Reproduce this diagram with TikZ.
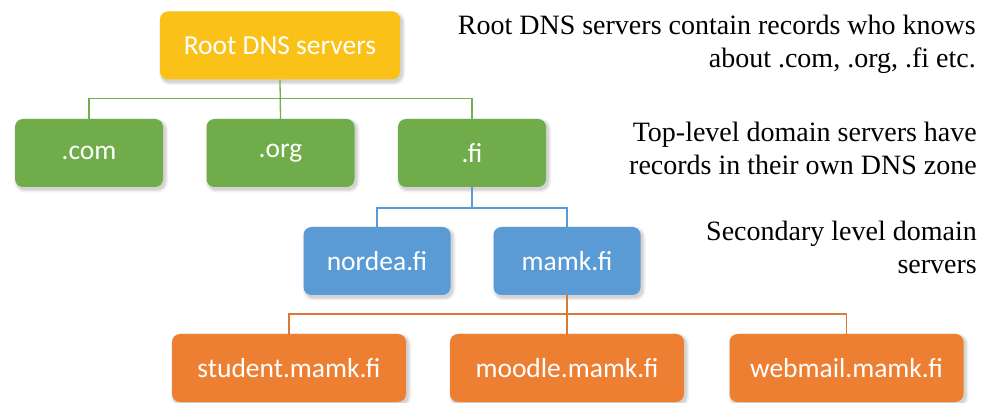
\documentclass[tikz,border=0pt]{standalone}
\usepackage{fontspec}
\newfontfamily\notefont{Liberation Serif}
\newfontfamily\boxfont{Carlito}

\definecolor{rootFill}{HTML}{FAC118}
\definecolor{tldFill}{HTML}{70AD4A}
\definecolor{tldLine}{HTML}{74AE4E}
\definecolor{sldFill}{HTML}{5A9BD6}
\definecolor{sldLine}{HTML}{5B9BD5}
\definecolor{hostFill}{HTML}{ED7F33}
\definecolor{hostLine}{HTML}{DD7A36}

\tikzset{
  % soft drop shadow built from opaque grey layers
  softshadow/.style={
    preaction={draw=black!5, line width=6pt, fill=black!5,
      transform canvas={xshift=2pt, yshift=-2.5pt}},
    preaction={draw=black!10, line width=3.5pt, fill=black!10,
      transform canvas={xshift=2pt, yshift=-2.5pt}},
    preaction={draw=black!17, line width=1.2pt, fill=black!17,
      transform canvas={xshift=2pt, yshift=-2.5pt}}},
  srvbox/.style={rectangle, rounded corners=8pt, inner sep=0pt,
    minimum height=68pt, text=white, softshadow,
    font=\boxfont\fontsize{27.5}{30}\selectfont},
  rootbox/.style={srvbox, fill=rootFill, minimum width=240pt},
  tldbox/.style={srvbox, fill=tldFill, minimum width=148pt},
  sldbox/.style={srvbox, fill=sldFill, minimum width=147pt},
  hostbox/.style={srvbox, fill=hostFill, minimum width=234pt},
  link/.style={line width=1.3pt},
  % one line of a side note, placed by its baseline's right end
  noteline/.style={anchor=base east, inner sep=0pt}
}

\begin{document}
\begin{tikzpicture}[x=1pt, y=-1pt]
  \useasboundingbox (0,0) rectangle (983,403);

  % explanatory notes
  \node[noteline, font=\notefont\fontsize{28}{33}\selectfont] (noteroota) at (976,35) {Root DNS servers contain records who knows};
  \node[noteline, font=\notefont\fontsize{28}{33}\selectfont] (noterootb) at (976,68) {about .com, .org, .fi etc.};
  \node[noteline, font=\notefont\fontsize{28}{33}\selectfont] (notetlda) at (977,142) {Top-level domain servers have};
  \node[noteline, font=\notefont\fontsize{28}{33}\selectfont] (notetldb) at (977,175) {records in their own DNS zone};
  \node[noteline, font=\notefont\fontsize{28}{33}\selectfont] (noteslda) at (977,241) {Secondary level domain};
  \node[noteline, font=\notefont\fontsize{28}{33}\selectfont] (notesldb) at (977,274) {servers};

  % root level
  \node[rootbox] (root) at (280,45.5) {Root DNS servers};

  % top-level domains
  \node[tldbox] (com) at (89,153) {.com};
  \node[tldbox] (org) at (280.5,153) {.org};
  \node[tldbox] (fi)  at (472,153) {.fi};

  % second-level domains
  \node[sldbox] (nordea) at (377,261) {nordea.fi};
  \node[sldbox] (mamk)   at (567,261) {mamk.fi};

  % hosts under mamk.fi
  \node[hostbox] (student) at (289,368) {student.mamk.fi};
  \node[hostbox] (moodle)  at (567,368) {moodle.mamk.fi};
  \node[hostbox] (webmail) at (846.5,368) {webmail.mamk.fi};

  % bus junctions
  \coordinate (gbus) at (280,98.5);
  \coordinate (bbus) at (472,208);
  \coordinate (obus) at (567,314);

  % connectors
  \draw[link, tldLine] (root.south) -- (org.north);
  \draw[link, tldLine] (com.north) |- (gbus) -| (fi.north);
  \draw[link, sldLine] (fi.south) -- (bbus);
  \draw[link, sldLine] (nordea.north) |- (bbus) -| (mamk.north);
  \draw[link, hostLine] (mamk.south) -- (moodle.north);
  \draw[link, hostLine] (student.north) |- (obus) -| (webmail.north);
\end{tikzpicture}
\end{document}
